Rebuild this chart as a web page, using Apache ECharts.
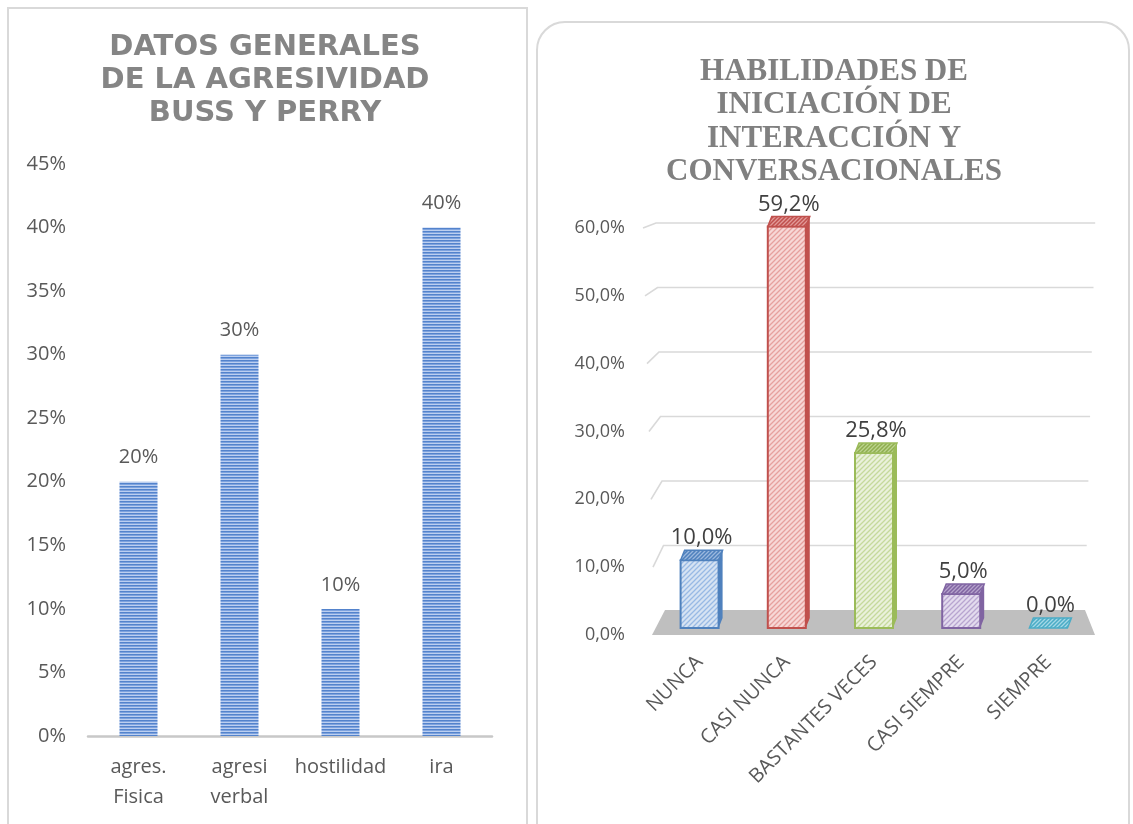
<!DOCTYPE html>
<html>
<head>
<meta charset="utf-8">
<title>Agresividad y habilidades</title>
<script src="https://cdn.jsdelivr.net/npm/echarts@6/dist/echarts.min.js"></script>
<style>
  html, body { margin: 0; padding: 0; background: #fff; }
  #chart { width: 1133px; height: 824px; }
</style>
</head>
<body>
<div id="chart"></div>
<script>
// ---- left chart: agresividad Buss y Perry ----
const agresCategories = ['agres.\nFisica', 'agresi\nverbal', 'hostilidad', 'ira']
const agresValues = [20, 30, 10, 40]
const agresMax = 45
const agresInterval = 5

// ---- right chart: habilidades ----
const habCategories = ['NUNCA', 'CASI NUNCA', 'BASTANTES VECES', 'CASI SIEMPRE', 'SIEMPRE']
const habValues = [10.0, 59.2, 25.8, 5.0, 0.0]
const habTicks = [10, 20, 30, 40, 50, 60]
const habMax = 60
const habInterval = 10

const leftTitle = 'DATOS GENERALES\nDE LA AGRESIVIDAD\nBUSS Y PERRY'
const rightTitle = 'HABILIDADES DE\nINICIACIÓN DE\nINTERACCIÓN Y\nCONVERSACIONALES'

const fontUi = '"Open Sans", sans-serif'
const labelColor = '#595959'

// horizontal stripes for the left bars
function stripes() {
  const c = document.createElement('canvas')
  c.width = 4
  c.height = 3
  const ctx = c.getContext('2d')
  ctx.fillStyle = '#5383cc'; ctx.fillRect(0, 0, 4, 1)
  ctx.fillStyle = '#7ea3de'; ctx.fillRect(0, 1, 4, 1)
  ctx.fillStyle = '#bccff0'; ctx.fillRect(0, 2, 4, 1)
  return { image: c, repeat: 'repeat' }
}

// diagonal hatch used on the 3d bars
function hatch(bg, fg, size) {
  const c = document.createElement('canvas')
  c.width = size
  c.height = size
  const ctx = c.getContext('2d')
  ctx.fillStyle = bg
  ctx.fillRect(0, 0, size, size)
  ctx.strokeStyle = fg
  ctx.lineWidth = 1.3
  ctx.beginPath()
  ctx.moveTo(0, size); ctx.lineTo(size, 0)
  ctx.moveTo(-1, 1); ctx.lineTo(1, -1)
  ctx.moveTo(size - 1, size + 1); ctx.lineTo(size + 1, size - 1)
  ctx.stroke()
  return { image: c, repeat: 'repeat' }
}

const barStyles = [
  { line: '#4f81bd', front: hatch('#d6e3f3', '#98b9e4', 5), top: hatch('#4f81bd', '#9bb8de', 4) },
  { line: '#c0504d', front: hatch('#f7d7d6', '#e6a09e', 5), top: hatch('#c0504d', '#e29a98', 4) },
  { line: '#9bbb59', front: hatch('#eaf1db', '#c5d99c', 5), top: hatch('#8fae4f', '#bcd38e', 4) },
  { line: '#8064a2', front: hatch('#e3dbee', '#b8a5d0', 5), top: hatch('#8064a2', '#b5a3cc', 4) },
  { line: '#4bacc6', front: hatch('#cbe8f0', '#7cc4d8', 5), top: hatch('#4bacc6', '#a4d8e6', 4) }
]

const fmtComma = v => v.toFixed(1).replace('.', ',') + '%'

// back-wall grid lines, slightly in perspective like the original 3d chart
function renderGridLine(params, api) {
  const v = api.value(1)
  const cs = params.coordSys
  const p = api.coord([0, v])
  const yFront = p[1]
  const yBack = yFront - (25 - v / 3)
  const xFront = cs.x - 1 - v * 0.2
  const xBack = cs.x + 9 - v * 0.15
  const xRight = cs.x + cs.width - 7 + v * 0.17
  return {
    type: 'polyline',
    shape: { points: [[xFront, yFront], [xBack, yBack], [xRight, yBack]] },
    style: { stroke: '#d9d9d9', lineWidth: 1.6, fill: null },
    silent: true
  }
}

function renderFloor(params, api) {
  const cs = params.coordSys
  const y0 = api.coord([0, 0])[1]
  return {
    type: 'polygon',
    shape: {
      points: [
        [cs.x - 4, y0],
        [cs.x + cs.width + 3, y0],
        [cs.x + cs.width - 7, y0 - 25],
        [cs.x + 9, y0 - 25]
      ]
    },
    style: { fill: '#bfbfbf' },
    silent: true
  }
}

function renderBar3d(params, api) {
  const i = api.value(0)
  const v = api.value(1)
  const base = api.coord([i, 0])
  const top = api.coord([i, v])
  const st = barStyles[i]
  const w = 38, dx = 4, dy = 10, off = 7
  const x0 = base[0] - w / 2
  const x1 = base[0] + w / 2
  const yb = base[1] - off
  const yt = top[1] - off
  const children = []
  if (yb - yt > 0.5) {
    children.push({
      type: 'polygon',
      shape: { points: [[x1, yb], [x1, yt], [x1 + dx, yt - dy], [x1 + dx, yb - dy]] },
      style: { fill: st.line }
    })
    children.push({
      type: 'rect',
      shape: { x: x0, y: yt, width: w, height: yb - yt },
      style: { fill: st.front, stroke: st.line, lineWidth: 2 }
    })
  }
  children.push({
    type: 'polygon',
    shape: { points: [[x0, yt], [x1, yt], [x1 + dx, yt - dy], [x0 + dx, yt - dy]] },
    style: { fill: st.top, stroke: st.line, lineWidth: 1.5 }
  })
  children.push({
    type: 'text',
    style: {
      text: fmtComma(v),
      x: base[0] + 2,
      y: yt - dy - 12,
      align: 'center',
      verticalAlign: 'middle',
      fill: '#404040',
      font: '22px "Open Sans", sans-serif'
    }
  })
  return { type: 'group', children }
}

const chart = echarts.init(document.getElementById('chart'), null, { renderer: 'canvas' })

chart.setOption({
  animation: false,
  backgroundColor: '#fff',
  graphic: [
    {
      type: 'rect',
      shape: { x: 8, y: 8, width: 519, height: 840 },
      style: { fill: 'none', stroke: '#d9d9d9', lineWidth: 2 },
      silent: true, z: -10
    },
    {
      type: 'rect',
      shape: { x: 537, y: 22, width: 592, height: 830, r: 28 },
      style: { fill: 'none', stroke: '#d9d9d9', lineWidth: 2 },
      silent: true, z: -10
    }
  ],
  title: [
    {
      text: leftTitle,
      left: 260,
      top: 26,
      textAlign: 'center',
      textStyle: {
        fontFamily: '"DejaVu Sans", sans-serif',
        fontWeight: 'bold',
        fontSize: 29,
        lineHeight: 33,
        color: '#858585'
      }
    },
    {
      text: rightTitle,
      left: 829,
      top: 50,
      textAlign: 'center',
      textStyle: {
        fontFamily: '"Liberation Serif", serif',
        fontWeight: 'bold',
        fontSize: 31,
        lineHeight: 33.5,
        color: '#808080'
      }
    }
  ],
  grid: [
    { left: 88, right: 641, top: 164, bottom: 88 },
    { left: 656, right: 41, top: 228, bottom: 189 }
  ],
  xAxis: [
    {
      type: 'category',
      gridIndex: 0,
      data: agresCategories,
      axisLine: { lineStyle: { color: '#c8c8c8', width: 2.5 } },
      axisTick: { show: false },
      axisLabel: {
        color: labelColor,
        fontFamily: fontUi,
        fontSize: 20,
        lineHeight: 30,
        margin: 16,
        interval: 0
      }
    },
    {
      type: 'category',
      gridIndex: 1,
      data: habCategories,
      axisLine: { show: false },
      axisTick: { show: false },
      axisLabel: {
        color: labelColor,
        fontFamily: fontUi,
        fontSize: 20,
        rotate: 45,
        margin: 24,
        interval: 0
      }
    }
  ],
  yAxis: [
    {
      type: 'value',
      gridIndex: 0,
      min: 0,
      max: agresMax,
      interval: agresInterval,
      axisLine: { show: false },
      axisTick: { show: false },
      splitLine: { show: false },
      axisLabel: {
        color: labelColor,
        fontFamily: fontUi,
        fontSize: 20,
        margin: 22,
        formatter: '{value}%'
      }
    },
    {
      type: 'value',
      gridIndex: 1,
      min: 0,
      max: habMax,
      interval: habInterval,
      axisLine: { show: false },
      axisTick: { show: false },
      splitLine: { show: false },
      axisLabel: {
        color: labelColor,
        fontFamily: fontUi,
        fontSize: 18,
        margin: 31,
        formatter: v => fmtComma(v)
      }
    }
  ],
  series: [
    {
      name: 'agresividad',
      type: 'bar',
      xAxisIndex: 0,
      yAxisIndex: 0,
      data: agresValues,
      barWidth: 38,
      itemStyle: { color: stripes() },
      label: {
        show: true,
        position: 'top',
        distance: 14,
        formatter: '{c}%',
        color: labelColor,
        fontFamily: fontUi,
        fontSize: 20
      }
    },
    {
      name: 'grid',
      type: 'custom',
      xAxisIndex: 1,
      yAxisIndex: 1,
      renderItem: renderGridLine,
      data: habTicks.map(t => [0, t]),
      encode: { x: 0, y: 1 },
      silent: true,
      z: 1
    },
    {
      name: 'floor',
      type: 'custom',
      xAxisIndex: 1,
      yAxisIndex: 1,
      renderItem: renderFloor,
      data: [[0, 0]],
      encode: { x: 0, y: 1 },
      silent: true,
      z: 2
    },
    {
      name: 'habilidades',
      type: 'custom',
      xAxisIndex: 1,
      yAxisIndex: 1,
      renderItem: renderBar3d,
      data: habValues.map((v, i) => [i, v]),
      encode: { x: 0, y: 1 },
      z: 3
    }
  ]
})
</script>
</body>
</html>
